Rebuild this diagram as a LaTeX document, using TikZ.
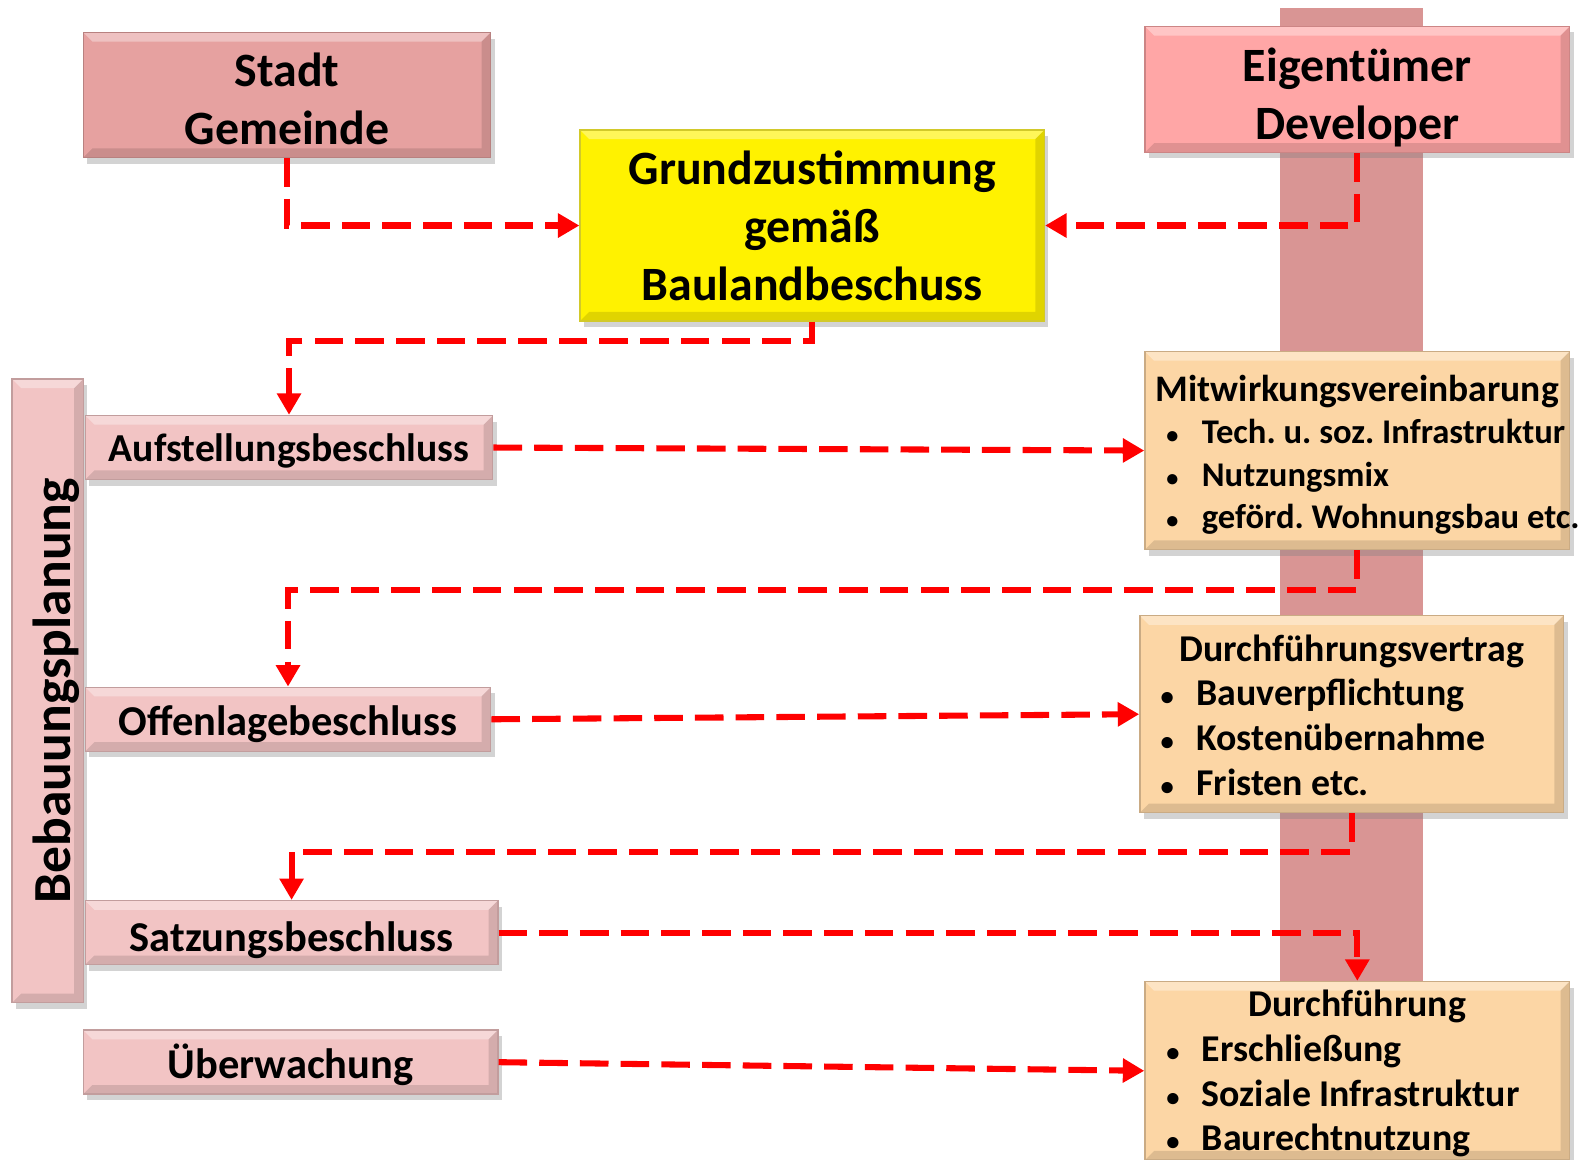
\documentclass[tikz,border=0pt]{standalone}
\usepackage{fontspec}
\setmainfont{Carlito}
\usepackage{graphicx}
\usetikzlibrary{arrows.meta,shadows}
\definecolor{cityrose}{RGB}{230,161,160}
\definecolor{ownerrose}{RGB}{255,166,166}
\definecolor{bandrose}{RGB}{217,149,148}
\definecolor{planrose}{RGB}{242,196,196}
\definecolor{dealorange}{RGB}{252,214,165}
\definecolor{flowred}{RGB}{255,0,0}
\newcommand{\itm}[1]{\makebox[3.96cm][l]{\hspace*{0.1cm}\makebox[0.35cm][l]{\scalebox{0.7}{•}}#1}}
\newcommand{\headln}[1]{\makebox[3.96cm][c]{#1}}
% lower a (one- or more-line) label inside its box
\newcommand{\lowered}[2][0.05cm]{\raisebox{-#1}[\height][\depth]{%
  \begin{tabular}{@{}c@{}}#2\end{tabular}}}
\newcommand{\dealrows}[2][0cm]{\raisebox{-#1}[\height][\depth]{%
  \begin{tabular}{@{}l@{}}#2\end{tabular}}}

\tikzset{
  box/.style={draw=#1!80!black, line width=0.4pt, fill=#1, inner sep=0pt,
    align=center, font=\bfseries,
    drop shadow={opacity=0.35, shadow xshift=0.04cm, shadow yshift=-0.06cm},
    path picture={
      \fill[white,opacity=0.35] (path picture bounding box.north west)
        -- (path picture bounding box.north east)
        -- ([xshift=-0.09cm,yshift=-0.09cm]path picture bounding box.north east)
        -- ([xshift=0.09cm,yshift=-0.09cm]path picture bounding box.north west) -- cycle;
      \fill[black,opacity=0.12] (path picture bounding box.south west)
        -- (path picture bounding box.south east)
        -- (path picture bounding box.north east)
        -- ([xshift=-0.09cm,yshift=-0.09cm]path picture bounding box.north east)
        -- ([xshift=-0.09cm,yshift=0.09cm]path picture bounding box.south east)
        -- ([xshift=0.09cm,yshift=0.09cm]path picture bounding box.south west) -- cycle;
    }},
  titlebox/.style={box=#1, font=\bfseries\fontsize{13.4}{16.2}\selectfont},
  stepbox/.style={box=planrose, minimum height=0.63cm},
  dealbox/.style={box=dealorange, minimum width=4.18cm},
  flow/.style={draw=flowred, line width=1.7pt, dash pattern=on 8pt off 3.4pt,
    -{Triangle[length=6pt,width=6.5pt]}}
}

\begin{document}
\begin{tikzpicture}[>=Stealth]
  \clip (0,0) rectangle (15.68,-11.41);
  % background band of the owner side
  \fill[bandrose] (12.60,-0.08) rectangle (14.01,-11.6);
  % top row
  \node[titlebox=cityrose, minimum width=4.01cm, minimum height=1.23cm]
    (stadt) at (2.825,-0.935) {\lowered[0.09cm]{Stadt\\Gemeinde}};
  \node[titlebox=ownerrose, minimum width=4.18cm, minimum height=1.24cm]
    (eigen) at (13.36,-0.88) {\lowered[0.09cm]{Eigentümer\\Developer}};
  \node[titlebox=yellow, minimum width=4.57cm, minimum height=1.88cm]
    (grund) at (7.995,-2.22) {Grundzustimmung\\gemäß\\Baulandbeschuss};
  % left column: Bebauungsplanung
  \node[box=planrose, minimum width=0.70cm, minimum height=6.14cm,
    font=\bfseries\fontsize{15}{17}\selectfont]
    (bebau) at (0.47,-6.80)
    {\rotatebox{90}{\raisebox{-0.08cm}[\height][\depth]{Bebauungsplanung}}};
  \node[stepbox, minimum width=4.01cm, font=\bfseries\fontsize{11.1}{13}\selectfont]
    (auf) at (2.845,-4.405) {\lowered[0.05cm]{Aufstellungsbeschluss}};
  \node[stepbox, minimum width=3.99cm, font=\bfseries\fontsize{11.9}{14}\selectfont]
    (off) at (2.835,-7.08) {\lowered[0.06cm]{Offenlagebeschluss}};
  \node[stepbox, minimum width=4.06cm, font=\bfseries\fontsize{11.9}{14}\selectfont]
    (satz) at (2.87,-9.18) {\lowered[0.09cm]{Satzungsbeschluss}};
  \node[stepbox, minimum width=4.08cm, font=\bfseries\fontsize{11.9}{14}\selectfont]
    (ueber) at (2.86,-10.455) {\lowered[0.06cm]{Überwachung}};
  % right column: agreements
  \node[dealbox, minimum height=1.95cm, font=\bfseries\fontsize{10.5}{11.9}\selectfont]
    (mit) at (13.36,-4.435) {\dealrows[0.06cm]{\headln{Mitwirkungsvereinbarung}\\
      \fontsize{9.7}{11.9}\selectfont\itm{Tech.\ u.\ soz.\ Infrastruktur}\\
      \fontsize{9.7}{11.9}\selectfont\itm{Nutzungsmix}\\
      \fontsize{9.7}{11.9}\selectfont\itm{geförd.\ Wohnungsbau etc.}}};
  \node[dealbox, minimum width=4.17cm, minimum height=1.94cm,
    font=\bfseries\fontsize{10.6}{12.5}\selectfont]
    (dfv) at (13.305,-7.03) {\dealrows[0.05cm]{\headln{Durchführungsvertrag}\\
      \itm{Bauverpflichtung}\\ \itm{Kostenübernahme}\\ \itm{Fristen etc.}}};
  \node[dealbox, minimum height=1.72cm, font=\bfseries\fontsize{10.6}{12.5}\selectfont]
    (df) at (13.36,-10.54) {\dealrows[0.04cm]{\headln{Durchführung}\\
      \itm{Erschließung}\\ \itm{Soziale Infrastruktur}\\ \itm{Baurechtnutzung}}};
  % connectors
  \draw[flow] (stadt.south) |- (grund.west);
  \draw[flow] (eigen.south) |- (grund.east);
  \draw[flow] (grund.south) -- ++(0,-0.19) -| (auf.north);
  \draw[flow] (auf.east) -- (mit.west);
  \draw[flow] (mit.south) -- ++(0,-0.39) -| (off.north);
  \draw[flow] (off.east) -- (dfv.west);
  \draw[flow] (dfv.south) -- ++(0,-0.38) -| (satz.north);
  \draw[flow] (satz.east) -| (df.north);
  \draw[flow] (ueber.east) -- (df.west);
\end{tikzpicture}
\end{document}
